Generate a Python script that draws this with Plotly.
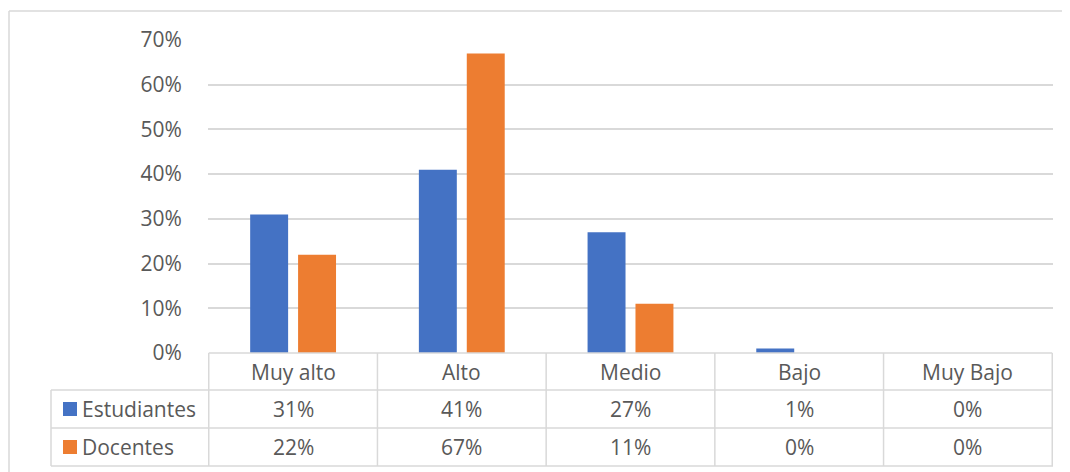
import plotly.graph_objects as go

# datos
categorias = ["Muy alto", "Alto", "Medio", "Bajo", "Muy Bajo"]
series = ["Estudiantes", "Docentes"]
estudiantes = [31, 41, 27, 1, 0]
docentes = [22, 67, 11, 0, 0]

colores = ["#4472C4", "#ED7D31"]
gris = "#D9D9D9"
texto = "#595959"
fuente = "Open Sans"
tam = 21

# la pagina tiene 8px de margen en el body
O = 8
W, H = 1070 - O, 472 - O
L, R, T, B = 208 - O, 17, 40 - O, 119
pw, ph = W - L - R, H - T - B


def px(x):
    return (x - O - L) / pw


def py(y):
    return (H - B - (y - O)) / ph


fig = go.Figure()
for nombre, valores, color in zip(series, [estudiantes, docentes], colores):
    fig.add_trace(go.Bar(x=categorias, y=valores, name=nombre,
                         marker=dict(color=color, line=dict(width=0))))

# tabla de datos bajo el eje
filas = [353, 390, 428, 466]
linea = dict(color=gris, width=1.5)
shapes = []
# borde exterior: solo arriba e izquierda quedan dentro de la imagen
shapes.append(dict(type="line", xref="paper", yref="paper",
                   x0=px(9), x1=px(1090), y0=py(11), y1=py(11), line=linea))
shapes.append(dict(type="line", xref="paper", yref="paper",
                   x0=px(9), x1=px(9), y0=py(495), y1=py(11), line=linea))
# lineas horizontales
shapes.append(dict(type="line", xref="x", yref="paper", x0=-0.5, x1=len(categorias) - 0.5,
                   y0=py(filas[0]), y1=py(filas[0]), line=linea))
for f in filas[1:]:
    shapes.append(dict(type="line", xref="paper", yref="paper", x0=px(51), x1=1,
                       y0=py(f), y1=py(f), line=linea))
# lineas verticales
for i in range(len(categorias) + 1):
    shapes.append(dict(type="line", xref="x", yref="paper", x0=i - 0.5, x1=i - 0.5,
                       y0=py(filas[-1]), y1=py(filas[0]), line=linea))
shapes.append(dict(type="line", xref="paper", yref="paper", x0=px(51), x1=px(51),
                   y0=py(filas[-1]), y1=py(filas[1]), line=linea))

fnt = dict(family=fuente, size=tam, color=texto)
anots = []
for c in categorias:
    anots.append(dict(x=c, xref="x", yref="paper", y=py((filas[0] + filas[1]) / 2),
                      text=c, showarrow=False, yanchor="middle", font=fnt))
for k, (nombre, valores, color) in enumerate(zip(series, [estudiantes, docentes], colores)):
    yc = py((filas[k + 1] + filas[k + 2]) / 2)
    for c, v in zip(categorias, valores):
        anots.append(dict(x=c, xref="x", yref="paper", y=yc, text=f"{v}%", showarrow=False,
                          yanchor="middle", font=fnt))
    shapes.append(dict(type="rect", xref="paper", yref="paper",
                       x0=px(63), x1=px(77), y0=py(filas[k + 1] + 26), y1=py(filas[k + 1] + 12),
                       fillcolor=color, line=dict(width=0)))
    anots.append(dict(x=px(80), xref="paper", yref="paper", y=yc, text=nombre, showarrow=False,
                      xanchor="left", yanchor="middle", font=fnt))

fig.update_layout(
    width=W, height=H,
    margin=dict(l=L, r=R, t=T, b=B),
    paper_bgcolor="white", plot_bgcolor="white",
    barmode="group", bargap=0.432, bargroupgap=0.208,
    showlegend=False,
    font=fnt,
    xaxis=dict(showticklabels=False, showline=False, showgrid=False, ticks=""),
    yaxis=dict(range=[0, 70], tick0=0, dtick=10, ticksuffix="%", showgrid=True,
               gridcolor=gris, gridwidth=1.5, zeroline=False, showline=False,
               ticks="outside", ticklen=21, tickcolor="rgba(0,0,0,0)"),
    shapes=shapes,
    annotations=anots,
)

fig.write_html("out.html")
